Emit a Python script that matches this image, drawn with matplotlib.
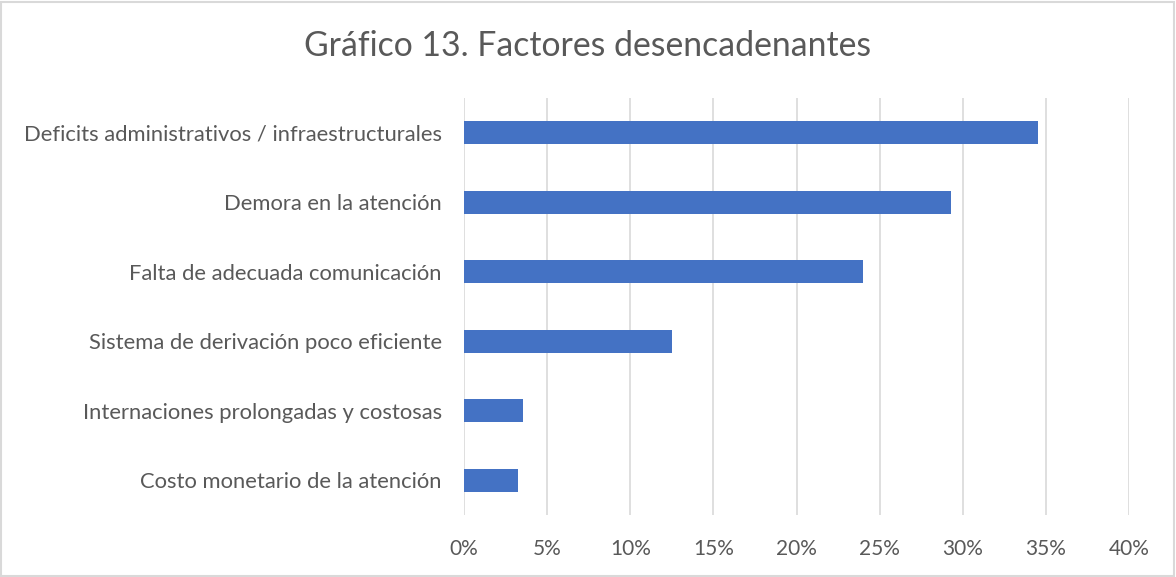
import matplotlib
matplotlib.use("Agg")
import matplotlib.pyplot as plt
from matplotlib.patches import Rectangle

plt.rcParams['font.family'] = ['Lato', 'DejaVu Sans']

title = "Gráfico 13. Factores desencadenantes"
categorias = [
    "Costo monetario de la atención",
    "Internaciones prolongadas y costosas",
    "Sistema de derivación poco eficiente",
    "Falta de adecuada comunicación",
    "Demora en la atención",
    "Deficits administrativos / infraestructurales",
]
valores = [0.0325, 0.0357, 0.1249, 0.240, 0.293, 0.345]
ticks = [0, 0.05, 0.10, 0.15, 0.20, 0.25, 0.30, 0.35, 0.40]
tick_labels = ["0%", "5%", "10%", "15%", "20%", "25%", "30%", "35%", "40%"]

gris = "#595959"

fig = plt.figure(figsize=(11.76, 5.77), dpi=100)
ax = fig.add_axes([464/1176, 1-515/577, (1129-464)/1176, (515-98)/577])

ax.barh(range(len(categorias)), valores, height=0.33, color="#4472C4", zorder=3)
ax.set_xlim(0, 0.40)
ax.set_ylim(-0.5, len(categorias)-0.5)
ax.set_xticks(ticks)
ax.set_xticklabels(tick_labels)
ax.set_yticks(range(len(categorias)))
ax.set_yticklabels(categorias)
ax.tick_params(axis="both", length=0, colors=gris)
ax.tick_params(axis="y", pad=16, labelsize=15.8)
ax.tick_params(axis="x", pad=17, labelsize=15)
ax.grid(axis="x", color="#d9d9d9", linewidth=1.2, zorder=0)
for s in ax.spines.values():
    s.set_visible(False)

fig.text(0.5, 1-46/577, title, ha="center", va="center", fontsize=24.3, color=gris)

# chart border
fig.patches.append(Rectangle((0.001, 0.002), 0.997, 0.995, transform=fig.transFigure,
                             fill=False, edgecolor="#d9d9d9", linewidth=1.5))

fig.savefig("out.png", dpi=100, facecolor="white")
